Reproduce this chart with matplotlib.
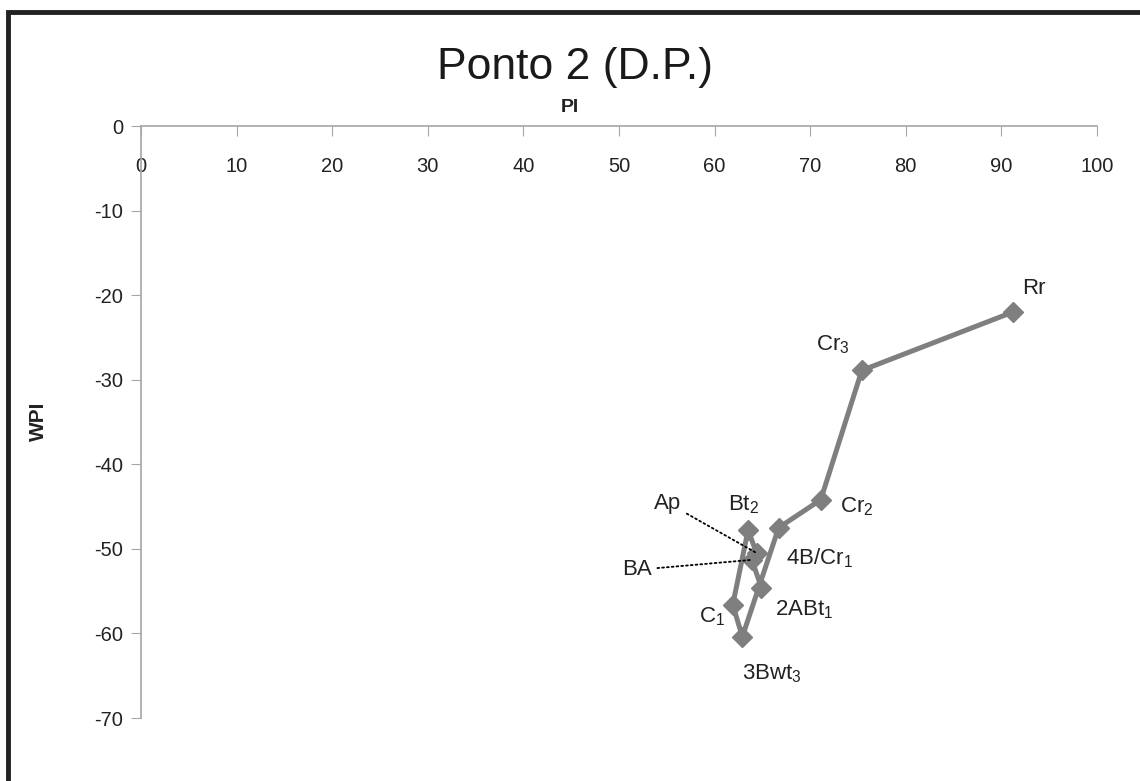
import matplotlib.pyplot as plt
from matplotlib.patches import Rectangle

plt.rcParams['font.family'] = ['Liberation Sans Narrow', 'Liberation Sans', 'DejaVu Sans']
plt.rcParams['axes.unicode_minus'] = False

# horizontes e valores (PI, WPI)
horizontes = ['2ABt$_\\mathregular{1}$', 'BA', 'Ap', 'Bt$_\\mathregular{2}$', 'C$_\\mathregular{1}$',
              '3Bwt$_\\mathregular{3}$', '4B/Cr$_\\mathregular{1}$', 'Cr$_\\mathregular{2}$',
              'Cr$_\\mathregular{3}$', 'Rr']
pi = [64.9, 63.9, 64.4, 63.5, 61.9, 62.9, 66.7, 71.1, 75.4, 91.2]
wpi = [-54.6, -51.3, -50.5, -47.8, -56.6, -60.4, -47.5, -44.2, -28.9, -22.0]

# deslocamento dos rotulos em pixels (dx, dy) e alinhamento
offsets = [(14, -22, 'left'), (-100, -10, 'right'), (-75, 50, 'right'), (-5, 26, 'center'),
           (-8, -12, 'right'), (29, -37, 'center'), (7, -30, 'left'), (19, -7, 'left'),
           (-12, 26, 'right'), (9, 24, 'left')]

fig = plt.figure(figsize=(11.4, 7.81), dpi=100)
ax = fig.add_axes([141/1140, 63/781, 956/1140, 592/781])

ax.plot(pi, wpi, color='#7f7f7f', lw=3.6, marker='D', markersize=10, zorder=3)

for i, nome in enumerate(horizontes):
    dx, dy, ha = offsets[i]
    if nome in ('Ap', 'BA'):
        ax.annotate(nome, xy=(pi[i], wpi[i]), xytext=(dx, dy), textcoords='offset pixels',
                    ha=ha, va='center', fontsize=16, color='#222222',
                    arrowprops=dict(arrowstyle='-', linestyle=':', color='black', lw=1.3,
                                    shrinkA=2, shrinkB=0))
    else:
        ax.annotate(nome, xy=(pi[i], wpi[i]), xytext=(dx, dy), textcoords='offset pixels',
                    ha=ha, va='center', fontsize=16, color='#222222')

ax.set_xlim(0, 100)
ax.set_ylim(-70, 0)
ax.set_xticks(range(0, 101, 10))
ax.set_yticks(range(-70, 1, 10))

for s in ['right', 'bottom']:
    ax.spines[s].set_visible(False)
for s in ['left', 'top']:
    ax.spines[s].set_color('#a6a6a6')
    ax.spines[s].set_linewidth(1.2)

ax.xaxis.tick_top()
ax.tick_params(axis='x', direction='in', length=7, color='#a6a6a6', pad=-36,
               labelsize=14.5, labelcolor='#222222')
ax.tick_params(axis='y', direction='out', length=7, color='#a6a6a6', pad=6,
               labelsize=14.5, labelcolor='#222222')

fig.text(570/1140, 1 - 107/781, 'PI', ha='center', va='center', fontsize=14,
         fontweight='bold', color='#222222')
fig.text(38/1140, 1 - 421/781, 'WPI', ha='center', va='center', fontsize=15,
         fontweight='bold', rotation=90, color='#222222')
fig.text(575/1140, 1 - 68/781, 'Ponto 2 (D.P.)', ha='center', va='center', fontsize=32,
         color='#1a1a1a')

fig.patches.append(Rectangle((8/1140, -0.1), 1.2, 1 - 12/781 + 0.1, transform=fig.transFigure,
                             fill=False, edgecolor='#222222', lw=3.5))

fig.savefig('out.png', dpi=100)
